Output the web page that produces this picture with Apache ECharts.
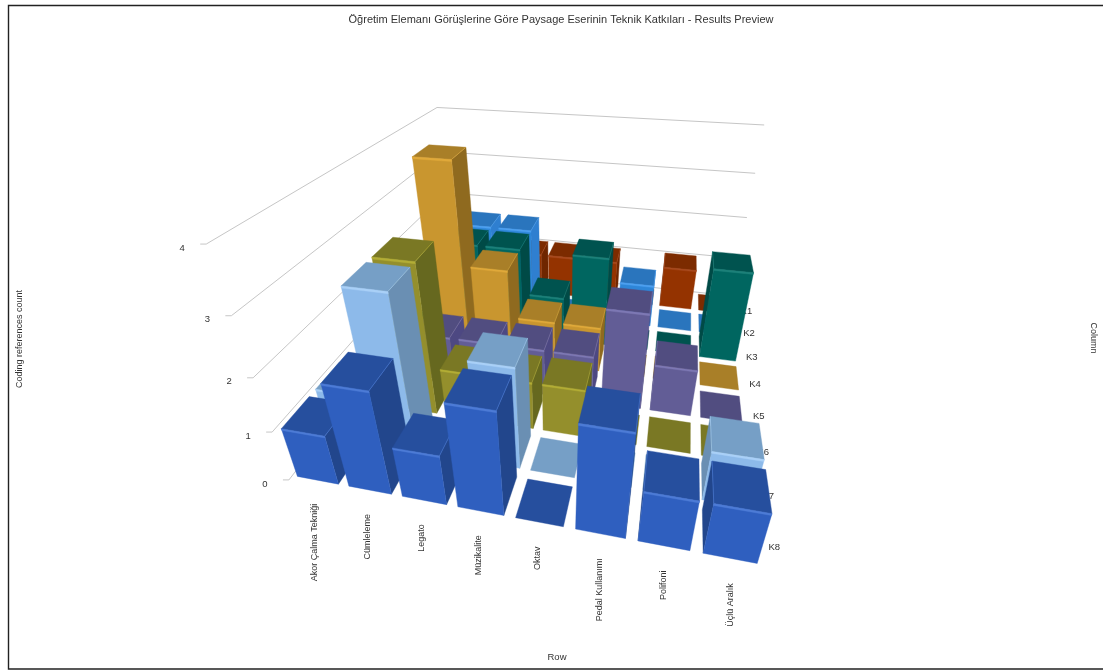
<!DOCTYPE html>
<html><head><meta charset="utf-8"><style>html,body{margin:0;background:#fff}#chart{width:1103px;height:671px}</style></head><body>
<div id="chart"></div>
<script src="https://cdn.jsdelivr.net/npm/echarts@6/dist/echarts.min.js"></script>
<script>
const titleText = 'Öğretim Elemanı Görüşlerine Göre Paysage Eserinin Teknik Katkıları - Results Preview';
const rowLabels = ['Akor Çalma Tekniği','Cümleleme','Legato','Müzikalite','Oktav','Pedal Kullanımı','Polifoni','Üçlü Aralık'];
const columnLabels = ['K1','K2','K3','K4','K5','K6','K7','K8'];
const valueTicks = [0,1,2,3,4];

// coding reference counts, one list per column code, in rowLabels order
const k1 = [0,0,1,1,1,0,1,0];
const k2 = [0,2,2,0,0,1,0,0];
const k3 = [0,2,2,1,2,0,0,2];
const k4 = [0,4,2,1,1,0,0,0];
const k5 = [0,1,1,1,1,2,1,0];
const k6 = [0,3,1,1,1,0,0,0];
const k7 = [1,3,0,2,0,0,0,1];
const k8 = [1,2,1,2,0,2,1,1];
const counts = [k1,k2,k3,k4,k5,k6,k7,k8];

// face colours per column code
const shades = [
  {front:'#943300',top:'#7c2b00',side:'#6f2600',lip:'#a84a1e'},
  {front:'#2e86d8',top:'#2a75bd',side:'#2f7fd0',lip:'#4da0f0'},
  {front:'#006660',top:'#00534f',side:'#004a46',lip:'#1c8079'},
  {front:'#c9962f',top:'#a97f28',side:'#8f6a1f',lip:'#e0a93a'},
  {front:'#625d96',top:'#514d80',side:'#4d4882',lip:'#7d78b4'},
  {front:'#948f2c',top:'#7a7824',side:'#66681f',lip:'#b3ad35'},
  {front:'#8dbaea',top:'#769fc6',side:'#6a8fb3',lip:'#a9d0f7'},
  {front:'#2f5fbf',top:'#264f9e',side:'#22468c',lip:'#4d7bd6'}
];

// Perspective camera as a 3x4 matrix: (across rows, depth, value) to screen pixels.
const CAM = [
  45.4336, 59.7689, -32.8699, 288.924,
  0.884822, -3.75438, -73.3929, 479.913,
  -0.0183748, 0.0863621, -0.0591314, 1
];
const CAM_X = 5.98;               // camera position along the row axis, for draw order
const PLANE_W = 800, PLANE_H = 400; // hidden cartesian plane that holds the row and value scales
const BAR_INSET = 0.1;
const LIP = 0.035;

function project(x, y, z) {
  const w = CAM[8]*x + CAM[9]*y + CAM[10]*z + CAM[11];
  return [(CAM[0]*x + CAM[1]*y + CAM[2]*z + CAM[3]) / w,
          (CAM[4]*x + CAM[5]*y + CAM[6]*z + CAM[7]) / w];
}
// read world coordinates through the hidden category and value axes
function worldX(api, rowIdx, edge) { return api.coord([rowIdx, 0])[0] / PLANE_W * rowLabels.length + edge; }
function worldZ(api, v) { return (PLANE_H - api.coord([0, v])[1]) / PLANE_H * (valueTicks.length - 1); }
function depth(colIdx) { return columnLabels.length - 1 - colIdx; }

function signedArea(pts) {
  let a = 0;
  pts.forEach((p, i) => { const q = pts[(i + 1) % pts.length]; a += p[0]*q[1] - q[0]*p[1]; });
  return a;
}
function poly(points, fill) {
  return {type:'polygon', shape:{points}, style:{fill, stroke:fill, lineWidth:0.4}, silent:true};
}

// back rows first, and towards the camera's side inside each row
const barData = [];
counts.forEach((list, colIdx) => list.forEach((v, rowIdx) => barData.push([rowIdx, v, colIdx])));
barData.sort((a, b) => (a[2] - b[2]) || (Math.abs(b[0] + .5 - CAM_X) - Math.abs(a[0] + .5 - CAM_X)));

function renderBar(params, api) {
  const rowIdx = api.value(0), v = api.value(1), colIdx = api.value(2);
  const s = shades[colIdx];
  const x0 = worldX(api, rowIdx, -0.5 + BAR_INSET), x1 = worldX(api, rowIdx, 0.5 - BAR_INSET);
  const y0 = depth(colIdx) + BAR_INSET, y1 = depth(colIdx) + 1 - BAR_INSET;
  const z = worldZ(api, v);
  const children = [];
  const topFace = [project(x0,y0,z), project(x1,y0,z), project(x1,y1,z), project(x0,y1,z)];
  if (z > 0) {
    const right = [project(x1,y0,0), project(x1,y1,0), project(x1,y1,z), project(x1,y0,z)];
    const left = [project(x0,y1,0), project(x0,y0,0), project(x0,y0,z), project(x0,y1,z)];
    if (signedArea(right) < 0) children.push(poly(right, s.side));
    if (signedArea(left) < 0) children.push(poly(left, s.side));
    children.push(poly([project(x0,y0,0), project(x1,y0,0), project(x1,y0,z), project(x0,y0,z)], s.front));
  }
  children.push(poly(topFace, s.top));
  if (z > 0) {
    children.push(poly([project(x0,y0,z-LIP), project(x1,y0,z-LIP), project(x1,y0,z), project(x0,y0,z)], s.lip));
    const edgeX = signedArea([project(x1,y0,0), project(x1,y1,0), project(x1,y1,z), project(x1,y0,z)]) < 0 ? x1 : x0;
    children.push({type:'polyline', shape:{points:[project(edgeX,y0,z), project(edgeX,y1,z)]},
      style:{stroke:s.lip, lineWidth:1, fill:null, opacity:.6}, silent:true});
  }
  return {type:'group', children};
}

const font = {fontFamily:'Liberation Sans, Arial, sans-serif', fontSize:9.5, fill:'#333'};
const sideFont = Object.assign({}, font, {fontSize:9});

function renderWall(params, api) {
  const v = api.value(0), z = worldZ(api, v);
  const xEnd = rowLabels.length, yEnd = columnLabels.length;
  const a = project(0,0,z), b = project(0,yEnd,z), c = project(xEnd,yEnd,z);
  return {type:'group', children:[
    {type:'polyline', shape:{points:[[a[0]-6,a[1]], a, b, c]},
     style:{stroke:'#c6c6c6', lineWidth:1, fill:null}, silent:true},
    {type:'text', x:a[0]-24, y:a[1]+4,
     style:Object.assign({text:String(v), align:'center', verticalAlign:'middle'}, font), silent:true}
  ]};
}
function renderRowLabel(params, api) {
  const rowIdx = api.value(0);
  const p = project(worldX(api, rowIdx, 0), 0, 0);
  return {type:'text', x:p[0], y:p[1]+19, rotation:Math.PI/2,
    style:Object.assign({text:rowLabels[rowIdx], align:'right', verticalAlign:'middle'}, sideFont), silent:true};
}
function renderColumnLabel(params, api) {
  const colIdx = api.value(0);
  const p = project(rowLabels.length, depth(colIdx) + .5, 0);
  return {type:'text', x:p[0]+13, y:p[1]+6,
    style:Object.assign({text:columnLabels[colIdx], align:'center', verticalAlign:'middle'}, font), silent:true};
}

const chart = echarts.init(document.getElementById('chart'), null, {renderer:'canvas'});
chart.setOption({
  animation:false,
  backgroundColor:'#fff',
  title:{text:titleText, left:556, top:9, textAlign:'center',
    textStyle:{fontFamily:font.fontFamily, fontSize:11, fontWeight:'normal', color:'#333'}},
  grid:{left:0, top:0, width:PLANE_W, height:PLANE_H},
  xAxis:{type:'category', data:rowLabels, show:false},
  yAxis:{type:'value', min:0, max:4, interval:1, show:false},
  series:[
    {type:'custom', z:2, clip:false, data:valueTicks.map(v => [v]), encode:{x:[], y:0}, renderItem:renderWall},
    {type:'custom', z:2, clip:false, data:rowLabels.map((_, i) => [i]), encode:{x:0, y:[]}, renderItem:renderRowLabel},
    {type:'custom', z:2, clip:false, data:columnLabels.map((_, i) => [i]), encode:{x:[], y:[]}, renderItem:renderColumnLabel},
    {type:'custom', z:3, clip:false, data:barData, encode:{x:0, y:1}, renderItem:renderBar}
  ],
  graphic:[
    {type:'polyline', z:10, silent:true, shape:{points:[[1103,5.5],[8.5,5.5],[8.5,669],[1103,669]]},
     style:{stroke:'#222', lineWidth:1.4, fill:null}},
    {type:'text', z:10, silent:true, x:20, y:339, rotation:Math.PI/2,
     style:Object.assign({text:'Coding references count', align:'center', verticalAlign:'middle'}, sideFont)},
    {type:'text', z:10, silent:true, x:1093, y:338, rotation:-Math.PI/2,
     style:Object.assign({text:'Column', align:'center', verticalAlign:'middle'}, sideFont)},
    {type:'text', z:10, silent:true, x:557, y:657,
     style:Object.assign({text:'Row', align:'center', verticalAlign:'middle'}, font)}
  ]
});
</script></body></html>
